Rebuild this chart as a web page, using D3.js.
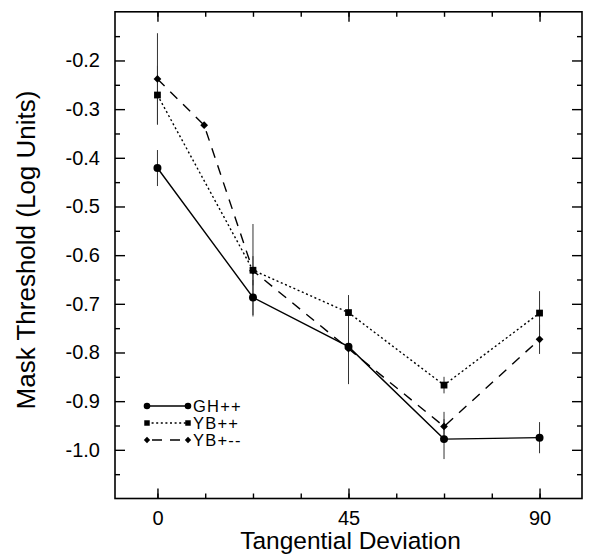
<!DOCTYPE html>
<html><head><meta charset="utf-8">
<script src="https://cdn.jsdelivr.net/npm/d3@7"></script>
<style>body{margin:0;background:#fff}svg{display:block}</style>
</head><body>
<svg id="c" width="590" height="556"></svg>
<script>
// ---- data ----
const seriesNames = ["GH++", "YB++", "YB+--"];
const ghX   = [0, 22.5, 45, 67.5, 90];
const ghY   = [-0.421, -0.687, -0.788, -0.978, -0.975];
const ghErr = [0.037, 0.036, 0.04, 0.041, 0.032];
const ybppX   = [0, 22.5, 45, 67.5, 90];
const ybppY   = [-0.271, -0.631, -0.718, -0.867, -0.719];
const ybppErr = [0.06, 0.095, 0.036, 0.017, 0.045];
const ybpmX   = [0, 11, 22.5, 45, 67.5, 90];
const ybpmY   = [-0.238, -0.333, -0.632, -0.792, -0.952, -0.773];
const ybpmErr = [0.094, 0.006, 0.03, 0.073, 0.03, 0.03];
const xTickLabels = [0, 45, 90];
const xMinorTicks = [0, 11.25, 22.5, 33.75, 45, 56.25, 67.5, 78.75, 90];
const yTickLabels = [-1.0, -0.9, -0.8, -0.7, -0.6, -0.5, -0.4, -0.3, -0.2];
const yMinorTicks = [-1.05, -0.95, -0.85, -0.75, -0.65, -0.55, -0.45, -0.35, -0.25, -0.15];
const xTitle = "Tangential Deviation";
const yTitle = "Mask Threshold (Log Units)";

// ---- layout ----
const L = 115, R = 582, T = 11.8, B = 498.5;
const svg = d3.select("#c");
const x = d3.scaleLinear().domain([-10, 100]).range([L, R]);
const y = d3.scaleLinear().domain([-1.1, -0.1]).range([B, T]);
const FONT = "'Liberation Sans', Arial, Helvetica, sans-serif";

function styleAxis(g) {
  g.select(".domain").remove();
  g.selectAll(".tick line").attr("stroke", "#000").attr("stroke-width", 1.4);
  g.selectAll("text").attr("font-family", FONT).attr("font-size", 20).attr("fill", "#000");
}
const fmtY = d => d.toFixed(1);
// left
svg.append("g").attr("transform", `translate(${L},0)`)
  .call(d3.axisLeft(y).tickValues(yTickLabels).tickSize(-10).tickPadding(15).tickFormat(fmtY))
  .call(styleAxis);
svg.append("g").attr("transform", `translate(${L},0)`)
  .call(d3.axisLeft(y).tickValues(yMinorTicks).tickSize(-5).tickFormat(""))
  .call(styleAxis);
// right
svg.append("g").attr("transform", `translate(${R},0)`)
  .call(d3.axisRight(y).tickValues(yTickLabels).tickSize(-10).tickFormat(""))
  .call(styleAxis);
svg.append("g").attr("transform", `translate(${R},0)`)
  .call(d3.axisRight(y).tickValues(yMinorTicks).tickSize(-5).tickFormat(""))
  .call(styleAxis);
// bottom
svg.append("g").attr("transform", `translate(0,${B})`)
  .call(d3.axisBottom(x).tickValues(xTickLabels).tickSize(-10).tickPadding(12).tickFormat(d => String(d)))
  .call(styleAxis);
svg.append("g").attr("transform", `translate(0,${B})`)
  .call(d3.axisBottom(x).tickValues(xMinorTicks).tickSize(-5).tickFormat(""))
  .call(styleAxis);
// top
svg.append("g").attr("transform", `translate(0,${T})`)
  .call(d3.axisTop(x).tickValues(xTickLabels).tickSize(-10).tickFormat(""))
  .call(styleAxis);
svg.append("g").attr("transform", `translate(0,${T})`)
  .call(d3.axisTop(x).tickValues(xMinorTicks).tickSize(-5).tickFormat(""))
  .call(styleAxis);

// frame
svg.append("rect").attr("x", L).attr("y", T).attr("width", R - L).attr("height", B - T)
  .attr("fill", "none").attr("stroke", "#000").attr("stroke-width", 1.6);

// titles
svg.append("text").attr("x", (L + R) / 2 + 2).attr("y", 549).attr("text-anchor", "middle")
  .attr("font-family", FONT).attr("font-size", 24.5).text(xTitle);
svg.append("text").attr("transform", "translate(35,250) rotate(-90)").attr("text-anchor", "middle")
  .attr("font-family", FONT).attr("font-size", 26).text(yTitle);

// series (diamond = square rotated 45deg)
const series = [
  {name: seriesNames[0], xs: ghX, ys: ghY, es: ghErr, dash: null, sym: d3.symbolCircle, rot: 0, size: 50, lsize: 34},
  {name: seriesNames[1], xs: ybppX, ys: ybppY, es: ybppErr, dash: "2,2.6", sym: d3.symbolSquare, rot: 0, size: 46, lsize: 30},
  {name: seriesNames[2], xs: ybpmX, ys: ybpmY, es: ybpmErr, dash: "10,8", sym: d3.symbolSquare, rot: 45, size: 30, lsize: 20}
];
const line = d3.line().x(d => x(d[0])).y(d => y(d[1]));
const gPlot = svg.append("g");
// error bars
series.forEach(s => {
  const pts = s.xs.map((v, i) => [v, s.ys[i], s.es[i]]);
  gPlot.append("g").selectAll("line").data(pts).join("line")
    .attr("x1", d => x(d[0])).attr("x2", d => x(d[0]))
    .attr("y1", d => y(d[1] + d[2])).attr("y2", d => y(d[1] - d[2]))
    .attr("stroke", "#333").attr("stroke-width", 1);
});
series.forEach(s => {
  const pts = s.xs.map((v, i) => [v, s.ys[i]]);
  gPlot.append("path").datum(pts).attr("d", line).attr("fill", "none")
    .attr("stroke", "#000").attr("stroke-width", 1.4)
    .attr("stroke-dasharray", s.dash);
  gPlot.append("g").selectAll("path").data(pts).join("path")
    .attr("transform", d => `translate(${x(d[0])},${y(d[1])}) rotate(${s.rot})`)
    .attr("d", d3.symbol().type(s.sym).size(s.size)).attr("fill", "#000");
});

// legend
const legRows = [406, 423, 440];
const lx1 = 147, lx2 = 188;
series.forEach((s, i) => {
  const ly = legRows[i];
  const g = svg.append("g");
  g.append("line").attr("x1", lx1).attr("x2", lx2).attr("y1", ly).attr("y2", ly)
    .attr("stroke", "#000").attr("stroke-width", 1.4).attr("stroke-dasharray", s.dash)
    .attr("stroke-dashoffset", s.dash === "10,8" ? 13 : 0);
  [lx1, lx2].forEach(px => g.append("path").attr("transform", `translate(${px},${ly}) rotate(${s.rot})`)
    .attr("d", d3.symbol().type(s.sym).size(s.lsize)).attr("fill", "#000"));
  g.append("text").attr("x", 193).attr("y", ly + 6).attr("font-family", FONT)
    .attr("font-size", 16.5).attr("letter-spacing", 1.2).text(s.name);
});
</script>
</body></html>
